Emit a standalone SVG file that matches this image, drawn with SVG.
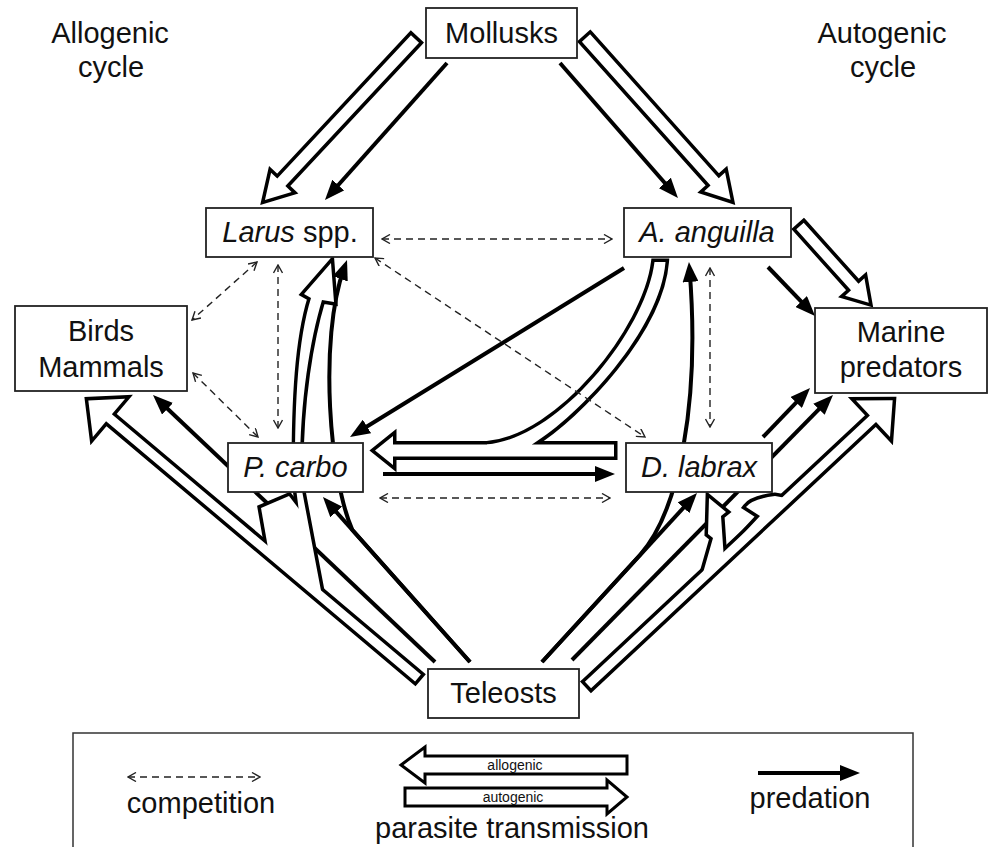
<svg xmlns="http://www.w3.org/2000/svg" xmlns:xlink="http://www.w3.org/1999/xlink" width="988" height="847" viewBox="0 0 988 847">
<style>
text{font-family:"Liberation Sans",Arial,sans-serif;fill:#111;}
.lbl{font-size:29px;text-anchor:middle;}
.it{font-style:italic;}
.box{fill:#fff;stroke:#222;stroke-width:1.8;}
.pred{fill:none;stroke:#000;stroke-width:4;marker-end:url(#fh);}
.comp{fill:none;stroke:#222;stroke-width:1.4;stroke-dasharray:7,5;marker-start:url(#oh);marker-end:url(#oh);}
.st{fill:none;stroke:#000;stroke-width:7;stroke-linejoin:miter;stroke-miterlimit:3;}
.fl{fill:#fff;stroke:none;}
.leg{font-size:29px;text-anchor:middle;}
.small{font-size:14px;text-anchor:middle;}
</style>
<defs>
<marker id="fh" viewBox="0 0 20 16" refX="12" refY="8" markerWidth="20" markerHeight="16" markerUnits="userSpaceOnUse" orient="auto"><path d="M0,0 L20,8 L0,16 Z" fill="#000"/></marker>
<marker id="oh" viewBox="0 0 10 10" refX="9" refY="5" markerWidth="10" markerHeight="10" markerUnits="userSpaceOnUse" orient="auto-start-reverse"><path d="M1,0.5 L9,5 L1,9.5" fill="none" stroke="#222" stroke-width="1.4"/></marker>
<path id="h1" transform="translate(415,39) rotate(133)" d="M0,-5.5 H196 V-14 L220,0 L196,14 V5.5 H0 Z"/>
<path id="h2" transform="translate(586,38) rotate(48.2)" d="M0,-5.5 H193 V-14 L217,0 L193,14 V5.5 H0 Z"/>
<path id="h3" transform="translate(800,226) rotate(48.1)" d="M0,-5 H82 V-13 L103,0 L82,13 V5 H0 Z"/>
<path id="h4" transform="translate(418,678) rotate(-139.9)" d="M0,-4.5 H404 V-25 L431,0 L404,25 V4.5 H0 Z"/>
<path id="h5" transform="translate(588,685) rotate(-43.06)" d="M0,-4.5 H390 V-25 L417,0 L390,25 V4.5 H0 Z"/>
<path id="l2" d="M268,548 L261,508 L289,496 L299,509 L302,516 L311,586 Z"/>
<path id="l3" d="M308,584 L295,480 L295,470 C295,400 298,340 311,298 L304,294 L331,263 L334,302 L322,300 C310,340 300,400 300,470 L300,480 L322,596 Z"/>
<path id="r2" d="M703,573 L713,538 L708,534 L709,498 L726,512 L721,516 L724,560 Z"/>
<path id="r3" d="M733,545 L760,516 L746,507 Q752,499 775,496 L786,498 L765,524 Z"/>
<path id="h6" d="M614,444.5 H393 V436 L375,450.5 L393,465 V456.5 H614 Z"/>
<path id="h7" d="M654.5,262 C646,330 560,438 487,444.5 L487,452 L532,452 L532,444.5 C580,415 660,330 665.5,262 Z"/>
</defs>

<g id="connectors">
  <!-- predation (filled) -->
  <line class="pred" x1="447" y1="63" x2="330.3" y2="194"/>
  <line class="pred" x1="560" y1="63" x2="672.7" y2="192"/>
  <line class="pred" x1="768" y1="267" x2="809.5" y2="310.2"/>
  <line class="pred" x1="624" y1="268" x2="356.8" y2="432.8"/>
  <line class="pred" x1="383" y1="474" x2="607" y2="474"/>
  <line class="pred" x1="542" y1="662" x2="691.6" y2="498.9"/>
  <path class="pred" d="M542,662 L640,555 C680,510 700,400 689.6,270"/>
  <line class="pred" x1="763" y1="437" x2="804.5" y2="393.8"/>
  <line class="pred" x1="572" y1="660" x2="827.4" y2="400.7"/>
  <line class="pred" x1="470" y1="662" x2="328.3" y2="503"/>
  <path class="pred" d="M470,662 L352.4,530 C330,480 318,340 344.3,267.5"/>
  <line class="pred" x1="435" y1="662" x2="158.8" y2="400.5"/>

  <!-- parasite transmission (hollow) -->
  <g id="hollow-top">
    <use xlink:href="#h1" class="st"/><use xlink:href="#h1" class="fl"/>
    <use xlink:href="#h2" class="st"/><use xlink:href="#h2" class="fl"/>
    <use xlink:href="#h3" class="st"/><use xlink:href="#h3" class="fl"/>
  </g>
  <g id="hollow-left">
    <use xlink:href="#h4" class="st"/><use xlink:href="#l2" class="st"/><use xlink:href="#l3" class="st"/>
    <use xlink:href="#h4" class="fl"/><use xlink:href="#l2" class="fl"/><use xlink:href="#l3" class="fl"/>
  </g>
  <g id="hollow-right">
    <use xlink:href="#h5" class="st"/><use xlink:href="#r2" class="st"/><use xlink:href="#r3" class="st"/>
    <use xlink:href="#h5" class="fl"/><use xlink:href="#r2" class="fl"/><use xlink:href="#r3" class="fl"/>
  </g>
  <g id="hollow-middle">
    <use xlink:href="#h6" class="st"/><use xlink:href="#h7" class="st"/>
    <use xlink:href="#h6" class="fl"/><use xlink:href="#h7" class="fl"/>
  </g>

  <!-- competition (dashed) -->
  <line class="comp" x1="382" y1="239" x2="612" y2="239"/>
  <line class="comp" x1="375" y1="258" x2="645" y2="437"/>
  <line class="comp" x1="278" y1="265" x2="278" y2="428"/>
  <line class="comp" x1="257" y1="262" x2="192" y2="320"/>
  <line class="comp" x1="193" y1="373" x2="258" y2="437"/>
  <line class="comp" x1="710" y1="268" x2="710" y2="427"/>
  <line class="comp" x1="380" y1="498" x2="610" y2="498"/>
</g>

<g id="title-allogenic"><text class="lbl" x="110" y="43" font-size="28">Allogenic</text><text class="lbl" x="111" y="77">cycle</text></g>
<g id="title-autogenic"><text class="lbl" x="882" y="43">Autogenic</text><text class="lbl" x="883" y="77">cycle</text></g>

<g id="mollusks"><rect class="box" x="426" y="8" width="151" height="50"/><text class="lbl" x="501.5" y="43">Mollusks</text></g>
<g id="larus"><rect class="box" x="206" y="208" width="167" height="49"/><text class="lbl" x="290" y="242"><tspan class="it">Larus</tspan> spp.</text></g>
<g id="anguilla"><rect class="box" x="624" y="208" width="167" height="49"/><text class="lbl it" x="707" y="242">A. anguilla</text></g>
<g id="birds"><rect class="box" x="15" y="306" width="172" height="85"/><text class="lbl" x="101" y="341">Birds</text><text class="lbl" x="101" y="377">Mammals</text></g>
<g id="pcarbo"><rect class="box" x="228" y="443" width="135" height="49"/><text class="lbl it" x="295.5" y="477">P. carbo</text></g>
<g id="dlabrax"><rect class="box" x="626" y="443" width="146" height="49"/><text class="lbl it" x="699" y="477">D. labrax</text></g>
<g id="marine"><rect class="box" x="815" y="308" width="172" height="85"/><text class="lbl" x="901" y="342">Marine</text><text class="lbl" x="901" y="377">predators</text></g>
<g id="teleosts"><rect class="box" x="428" y="669" width="151" height="49"/><text class="lbl" x="503.5" y="703">Teleosts</text></g>

<g id="legend">
  <rect x="73" y="733" width="840" height="130" fill="#fff" stroke="#333" stroke-width="1.5"/>
  <line class="comp" x1="128" y1="777" x2="260" y2="777"/>
  <text class="leg" x="201" y="813">competition</text>
  <path d="M627,756 H425 V747 L401,765 L425,783 V774 H627 Z" fill="#fff" stroke="#000" stroke-width="3"/>
  <text class="small" x="515" y="770">allogenic</text>
  <path d="M405,788 H607 V780 L627,797 L607,814 V806 H405 Z" fill="#fff" stroke="#000" stroke-width="3"/>
  <text class="small" x="513" y="802">autogenic</text>
  <text class="leg" x="512" y="838">parasite transmission</text>
  <line x1="758" y1="773" x2="852" y2="773" stroke="#000" stroke-width="4" marker-end="url(#fh)"/>
  <text class="leg" x="810" y="808">predation</text>
</g>
</svg>
